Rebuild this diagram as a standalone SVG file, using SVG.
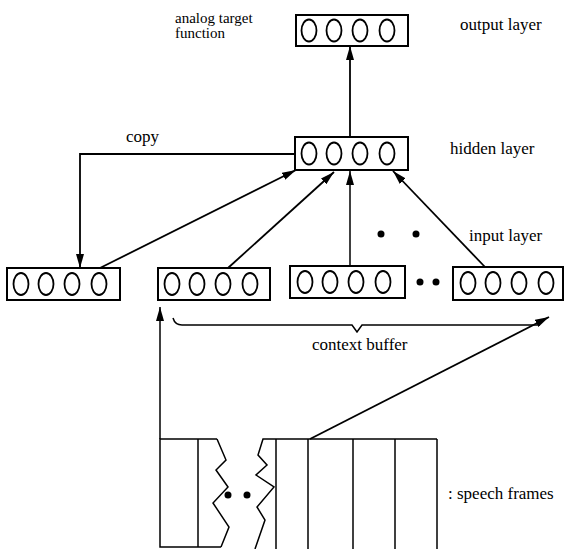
<svg xmlns="http://www.w3.org/2000/svg" width="565" height="549" viewBox="0 0 565 549">
<style>
.box{fill:#fff;stroke:#000;stroke-width:2}
.unit{fill:none;stroke:#000;stroke-width:1.8}
.ln{fill:none;stroke:#000;stroke-width:1.8}
.thin{fill:none;stroke:#000;stroke-width:1.5}
.dot{fill:#000}
.lbl{font-family:'Liberation Serif','DejaVu Serif',serif;font-size:17px;fill:#000}
.sm{font-size:15px}
</style>
<defs>
<marker id="ah" viewBox="0 0 14 8" refX="14" refY="4" markerWidth="14" markerHeight="8" markerUnits="userSpaceOnUse" orient="auto">
<path d="M0,0 L14,4 L0,8 Z" fill="#000"/>
</marker>
<g id="units">
<ellipse cx="13" cy="0" rx="7.5" ry="11" class="unit"/>
<ellipse cx="38" cy="0" rx="7.5" ry="11" class="unit"/>
<ellipse cx="64" cy="0" rx="7.5" ry="11" class="unit"/>
<ellipse cx="91" cy="0" rx="7.5" ry="11" class="unit"/>
</g>
</defs>
<rect width="565" height="549" fill="#fff"/>

<g id="output-layer">
<rect x="296" y="15" width="112" height="31" class="box"/>
<use href="#units" x="296" y="30.5"/>
</g>
<g id="hidden-layer">
<rect x="295" y="137" width="113" height="33" class="box"/>
<use href="#units" x="296" y="153.5"/>
</g>
<g id="input-1">
<rect x="7" y="268" width="113" height="32" class="box"/>
<use href="#units" x="8" y="284"/>
</g>
<g id="input-2">
<rect x="158" y="268" width="112" height="32" class="box"/>
<use href="#units" x="159" y="284"/>
</g>
<g id="input-3">
<rect x="290" y="266" width="115" height="32" class="box"/>
<use href="#units" x="292" y="282"/>
</g>
<g id="input-4">
<rect x="453" y="267" width="110" height="33" class="box"/>
<use href="#units" x="455" y="283"/>
</g>

<g id="speech-frames">
<polyline class="thin" points="217,439 160,439 160,547 221,547"/>
<line class="thin" x1="198" y1="439" x2="198" y2="547"/>
<polyline class="thin" points="217,439 226,460 216,470 228,487 213,503 229,527 221,547"/>
<polyline class="thin" points="437,439 263,439 258,455 267,465 256,475 274,487 257,507 265,520 255,549"/>
<line class="thin" x1="276" y1="439" x2="276" y2="549"/>
<line class="thin" x1="308" y1="439" x2="308" y2="549"/>
<line class="thin" x1="353" y1="439" x2="353" y2="549"/>
<line class="thin" x1="395" y1="439" x2="395" y2="549"/>
<line class="thin" x1="437" y1="439" x2="437" y2="549"/>
<circle cx="228" cy="495" r="3.5" class="dot"/>
<circle cx="247" cy="495" r="3.5" class="dot"/>
</g>

<g id="connectors">
<line class="ln" x1="350" y1="137" x2="350" y2="46" marker-end="url(#ah)"/>
<polyline class="ln" points="295,154 80,154 80,268" marker-end="url(#ah)"/>
<line class="ln" x1="100" y1="268" x2="296" y2="170" marker-end="url(#ah)"/>
<line class="ln" x1="228" y1="268" x2="334" y2="172" marker-end="url(#ah)"/>
<line class="thin" x1="350" y1="266" x2="350" y2="171" marker-end="url(#ah)"/>
<line class="ln" x1="485" y1="267" x2="393" y2="171" marker-end="url(#ah)"/>
<line class="thin" x1="160" y1="439" x2="160" y2="307" marker-end="url(#ah)"/>
<line class="ln" x1="310" y1="439" x2="549" y2="317" marker-end="url(#ah)"/>
<path class="thin" d="M173,318 Q175,325 182,325 L352,325 L357,332 L362,325 L540,325"/>
</g>

<g id="dots">
<circle cx="381" cy="234" r="3.5" class="dot"/>
<circle cx="416" cy="234" r="3.5" class="dot"/>
<circle cx="420" cy="282" r="3.5" class="dot"/>
<circle cx="436" cy="282" r="3.5" class="dot"/>
</g>

<g id="labels">
<text class="lbl sm" x="175" y="23">analog target</text>
<text class="lbl sm" x="175" y="38">function</text>
<text class="lbl" x="460" y="30">output layer</text>
<text class="lbl" x="126" y="142">copy</text>
<text class="lbl" x="450" y="154">hidden layer</text>
<text class="lbl" x="469" y="241">input layer</text>
<text class="lbl" x="312" y="350">context buffer</text>
<text class="lbl" x="448" y="499">: speech frames</text>
</g>
</svg>
